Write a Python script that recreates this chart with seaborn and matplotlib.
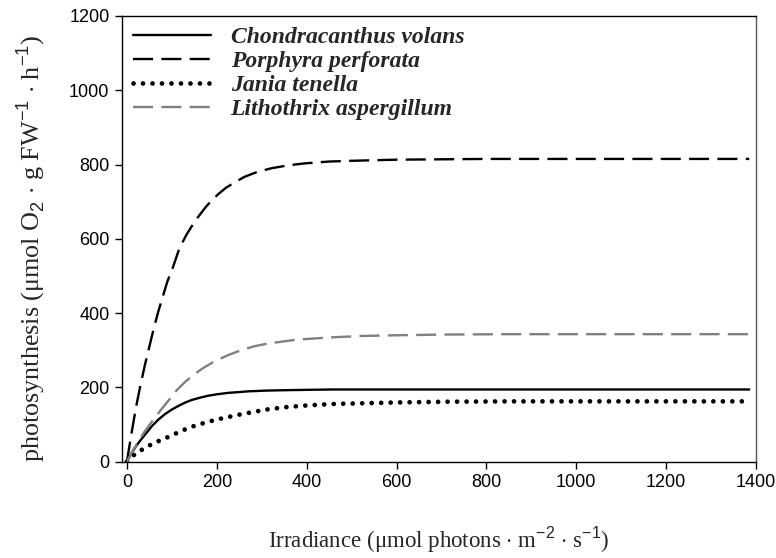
import matplotlib
matplotlib.use("Agg")
import matplotlib.pyplot as plt
import seaborn as sns
import pandas as pd

chond_x = [0, 10, 20, 30, 40, 56, 70, 85, 100, 115, 130, 145, 163, 180, 200, 226, 250, 270, 311,
           350, 400, 459, 600, 800, 1000, 1200, 1385]
chond_y = [0, 22, 41, 57, 72, 96, 113, 128, 140, 150, 159, 166, 172, 177, 181, 185, 187, 189, 191,
           192, 193, 194, 194, 194, 194, 194, 194]

porph_x = [0, 10, 20, 30, 40, 50, 60, 70, 80, 90, 100, 117, 133, 145, 158, 175, 190, 203, 220,
           240, 262, 290, 322, 360, 396, 450, 500, 600, 700, 800, 1000, 1200, 1385]
porph_y = [0, 75, 145, 205, 260, 310, 360, 405, 445, 485, 515, 575, 612, 635, 658, 685, 705, 720, 737,
           752, 767, 780, 790, 798, 803, 808, 810, 813, 814, 815, 815, 815, 815]

jania_x = [0, 18, 39, 59, 78, 98, 118, 137, 157, 176, 196, 215, 237, 257, 280, 311, 350, 400, 459,
           530, 600, 712, 850, 1000, 1200, 1385]
jania_y = [0, 20, 36, 49, 59, 69, 81, 90, 99, 105, 112, 117, 123, 128, 133, 140, 146, 151, 155,
           157, 159, 161, 162, 162, 162, 162]

litho_x = [0, 13, 26, 40, 56, 75, 93, 110, 130, 150, 170, 195, 226, 255, 282, 310, 340, 370, 400,
           450, 519, 600, 712, 850, 1000, 1200, 1385]
litho_y = [0, 29, 55, 82, 108, 138, 165, 191, 215, 235, 252, 270, 287, 300, 310, 317, 322, 327, 330,
           334, 338, 340, 342, 343, 343, 343, 343]

names = ["Chondracanthus volans", "Porphyra perforata", "Jania tenella", "Lithothrix aspergillum"]

x_ticks = [0, 200, 400, 600, 800, 1000, 1200, 1400]
y_ticks = [0, 200, 400, 600, 800, 1000, 1200]

sns.set_style("ticks")
plt.rcParams['mathtext.fontset'] = 'custom'
plt.rcParams['mathtext.rm'] = 'Liberation Serif'
plt.rcParams['mathtext.sf'] = 'Liberation Sans'

fig = plt.figure(figsize=(7.76, 5.58), dpi=100)
ax = fig.add_axes([122/776, 1 - 461.5/558, (756 - 122)/776, (461.5 - 16)/558])

series = [
    (chond_x, chond_y, dict(color="black", linestyle="-", linewidth=1.7)),
    (porph_x, porph_y, dict(color="black", linestyle=(0, (8.5, 3.5)), linewidth=1.7)),
    (jania_x, jania_y, dict(color="black", linestyle=(0, (0.01, 2.0)), linewidth=3.4,
                            dash_capstyle="round")),
    (litho_x, litho_y, dict(color="#808080", linestyle=(0, (8.5, 3.5)), linewidth=1.7)),
]
for (xs, ys, st), nm in zip(series, names):
    df = pd.DataFrame({"x": xs, "y": ys})
    sns.lineplot(data=df, x="x", y="y", ax=ax, label=nm, **st)

ax.set_xlim(-11, 1400)
ax.set_ylim(0, 1200)
ax.set_xticks(x_ticks)
ax.set_yticks(y_ticks)
for s in ax.spines.values():
    s.set_visible(True)
    s.set_color("black")
    s.set_linewidth(1.0)
ax.spines["right"].set_color("#555555")
ax.tick_params(axis="both", direction="out", length=5, width=1, labelsize=13, color="black",
               labelcolor="black")
for lab in ax.get_xticklabels() + ax.get_yticklabels():
    lab.set_fontfamily("Liberation Sans")
ax.tick_params(axis="x", pad=4)
ax.tick_params(axis="y", pad=4)

ax.set_xlabel(r"Irradiance ($\mathregular{\mu}$mol photons $\cdot$ m$^{\mathsf{-2}}$ $\cdot$ s$^{\mathsf{-1}}$)",
              fontfamily="Liberation Serif", fontsize=16.5, labelpad=24)
ax.set_ylabel(r"photosynthesis ($\mathregular{\mu}$mol O$_{\mathsf{2}}$ $\cdot$ g FW$^{\mathsf{-1}}$ $\cdot$ h$^{\mathsf{-1}}$)",
              fontfamily="Liberation Serif", fontsize=18.8)
ax.yaxis.set_label_coords(-0.118, 0.478)

leg = ax.legend(loc="upper left", bbox_to_anchor=(0.0, 1.0), frameon=False,
                prop={"family": "Liberation Serif", "style": "italic", "weight": "bold", "size": 17},
                handlelength=3.3, handletextpad=0.85, labelspacing=0.1, borderaxespad=0.25,
                borderpad=0.2)

fig.savefig("out.png", dpi=100)
